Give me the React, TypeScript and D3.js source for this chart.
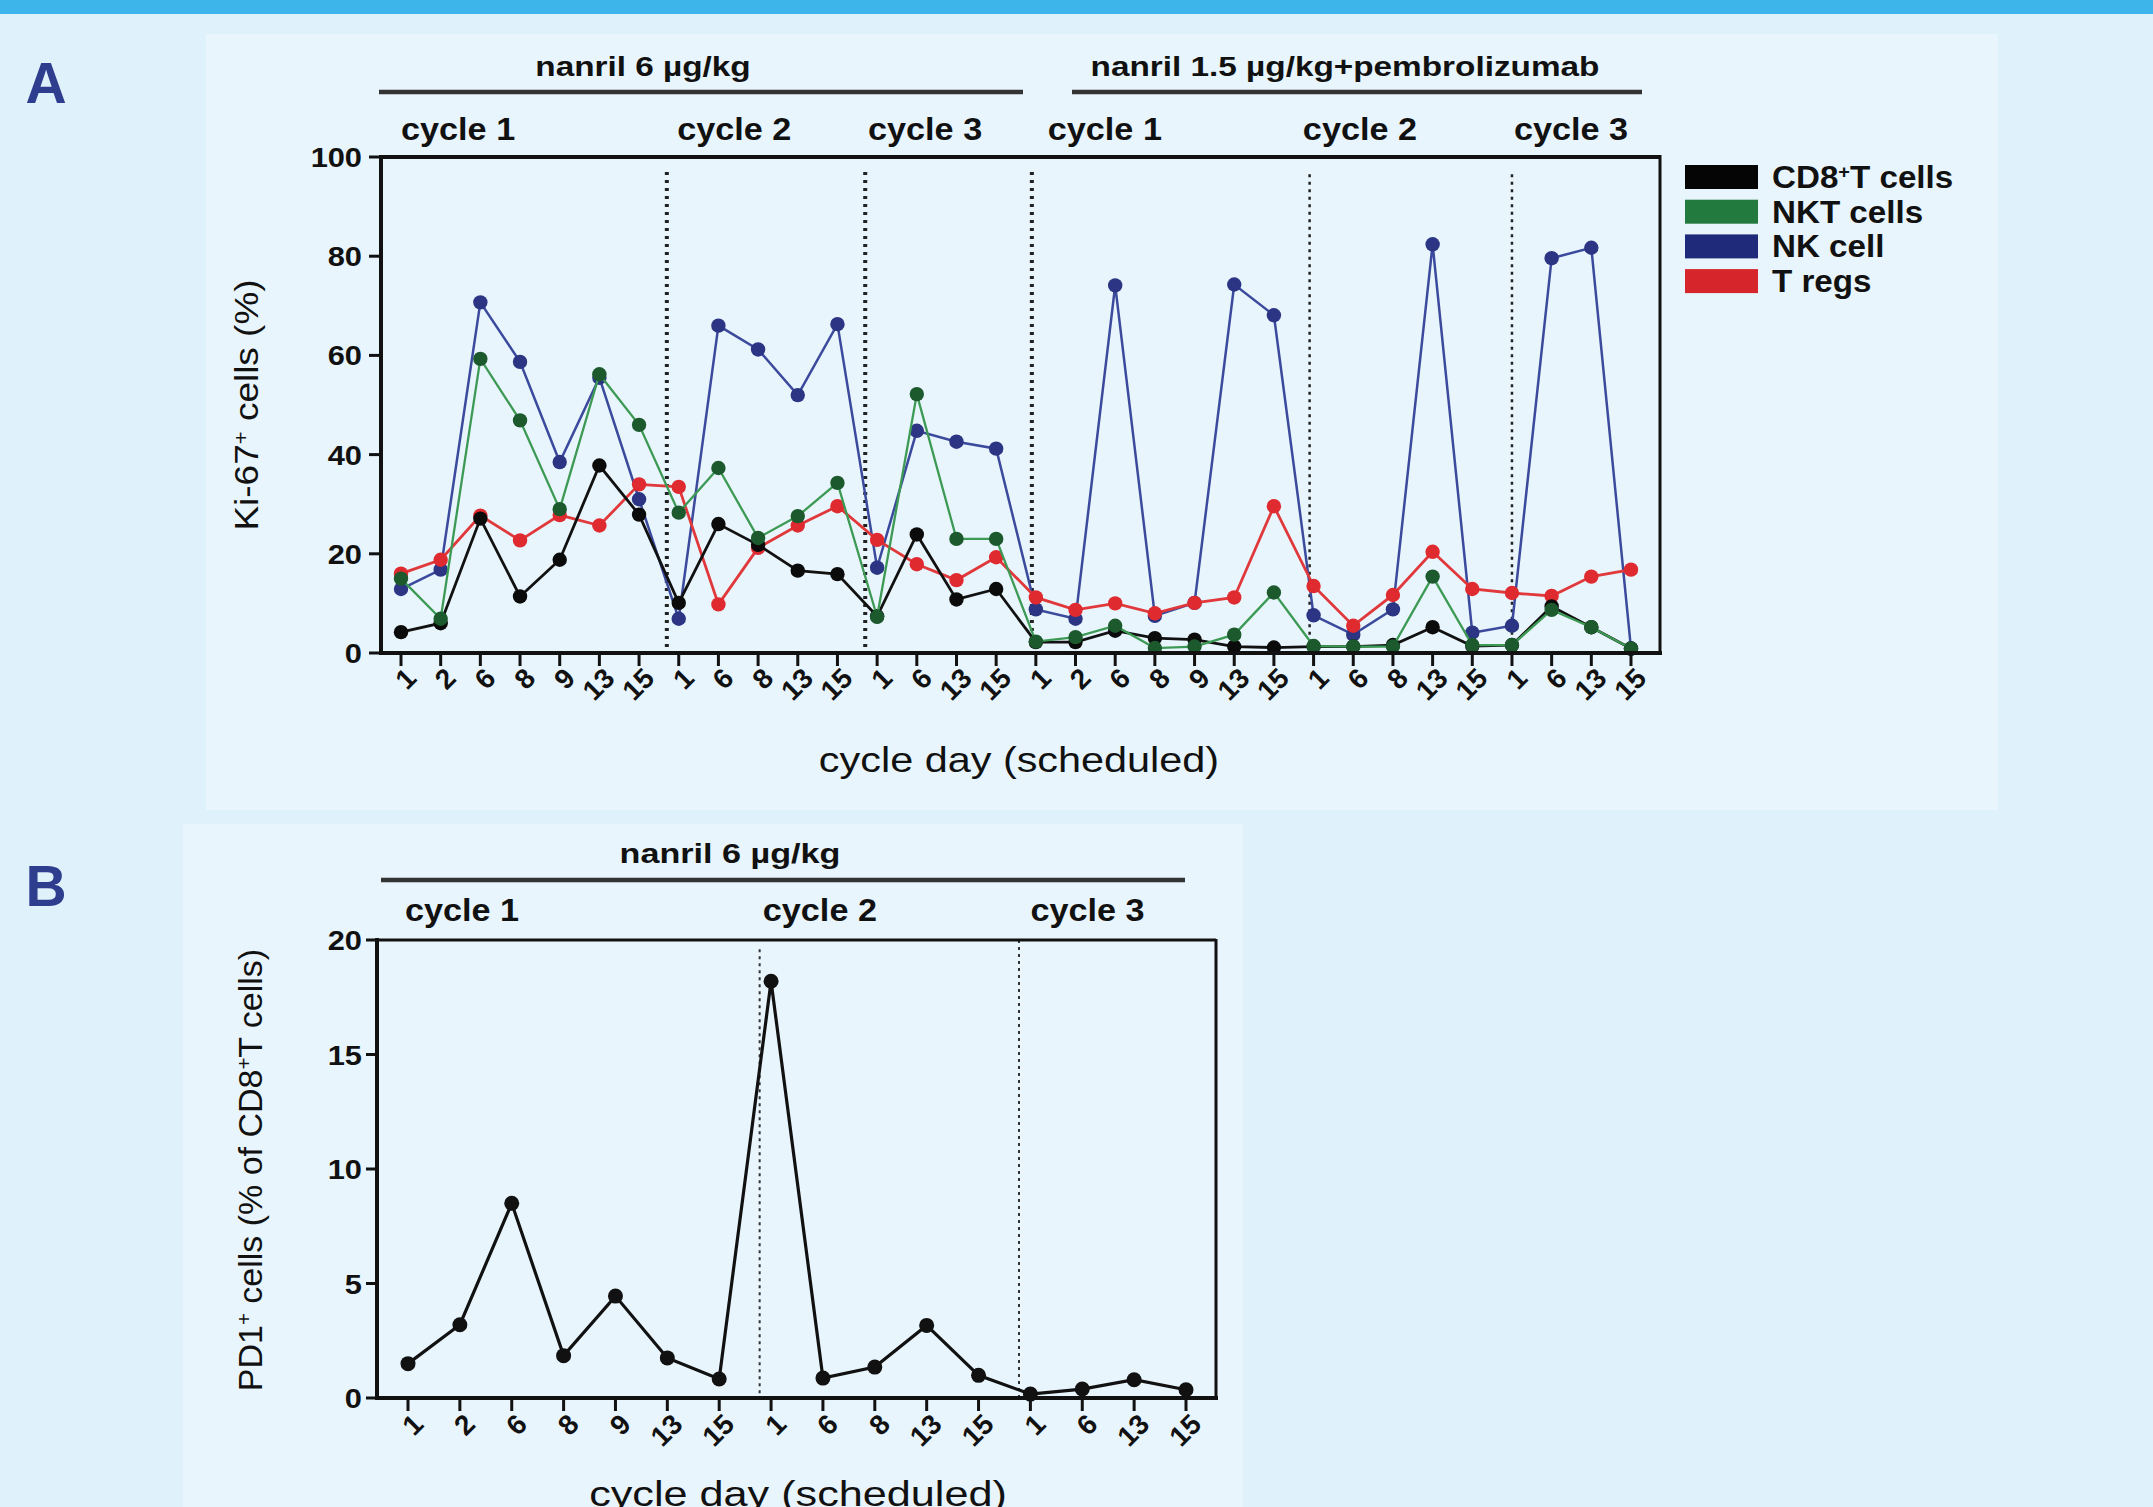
import * as d3 from 'd3'

// Panel A: Ki-67+ cells, one point per scheduled cycle day
const daysA = [1, 2, 6, 8, 9, 13, 15, 1, 6, 8, 13, 15, 1, 6, 13, 15, 1, 2, 6, 8, 9, 13, 15, 1, 6, 8, 13, 15, 1, 6, 13, 15]
const cd8T = [4.2, 6, 27.1, 11.4, 18.8, 37.8, 27.9, 10.1, 26, 21.8, 16.6, 15.9, 7.4, 23.9, 10.8, 12.9, 2.2, 2.2, 4.5, 3, 2.7, 1.3, 1.1, 1.3, 1.3, 1.6, 5.2, 1.4, 1.6, 9.4, 5.2, 0.9]
const nkt = [15, 6.9, 59.3, 46.9, 29, 56.2, 46, 28.3, 37.3, 23.2, 27.6, 34.3, 7.3, 52.2, 23, 23, 2.3, 3.2, 5.5, 1, 1.3, 3.7, 12.2, 1.4, 1.3, 1.3, 15.4, 1.6, 1.6, 8.7, 5.2, 0.9]
const nk = [12.9, 16.8, 70.7, 58.7, 38.5, 55.5, 31, 6.9, 66, 61.2, 52, 66.3, 17.2, 44.8, 42.6, 41.2, 8.8, 6.9, 74.1, 7.5, 10.1, 74.3, 68.1, 7.6, 3.7, 8.8, 82.4, 4.1, 5.5, 79.6, 81.7, 0.9]
const tregs = [16, 18.8, 27.7, 22.7, 27.8, 25.7, 34, 33.5, 9.8, 21.2, 25.7, 29.6, 22.8, 17.9, 14.7, 19.3, 11.2, 8.7, 10, 8, 10.1, 11.2, 29.6, 13.5, 5.5, 11.7, 20.4, 12.9, 12.1, 11.5, 15.4, 16.8]
const seriesNames = ['CD8⁺T cells', 'NKT cells', 'NK cell', 'T regs']
const ticksA = [0, 20, 40, 60, 80, 100]
const regimensA = ['nanril 6 µg/kg', 'nanril 1.5 µg/kg+pembrolizumab']
const cyclesA = ['cycle 1', 'cycle 2', 'cycle 3', 'cycle 1', 'cycle 2', 'cycle 3']
// where the dotted cycle separators sit, in category units
const breaksA = [6.7, 11.7, 15.9, 22.9, 28.0]
const cycleStartA = [0, 6.96, 11.77, 16.3, 22.73, 28.05]

// Panel B: PD1+ of CD8+ T cells
const daysB = [1, 2, 6, 8, 9, 13, 15, 1, 6, 8, 13, 15, 1, 6, 13, 15]
const pd1 = [1.5, 3.2, 8.5, 1.85, 4.45, 1.75, 0.83, 18.2, 0.87, 1.35, 3.17, 0.99, 0.17, 0.39, 0.8, 0.36]
const ticksB = [0, 5, 10, 15, 20]
const cyclesB = ['cycle 1', 'cycle 2', 'cycle 3']
const breaksB = [6.78, 11.78]
const cycleStartB = [-0.06, 6.84, 12.0]

const FONT = '"Liberation Sans", Arial, Helvetica, sans-serif'
const INK = '#111'

function sup(label: string) {
  const parts = label.split('⁺')
  return parts.flatMap((p, i) =>
    i === 0 ? [p] : [<tspan key={i} baselineShift="super" fontSize="0.6em">+</tspan>, p]
  )
}

function Txt({ x, y, size, weight = 'bold', anchor = 'start', sx = 1, rotate = 0, fill = INK, children }: any) {
  return (
    <text
      transform={`translate(${x},${y}) rotate(${rotate}) scale(${sx},1)`}
      fontSize={size}
      fontWeight={weight}
      textAnchor={anchor}
      fill={fill}
      fontFamily={FONT}
    >
      {children}
    </text>
  )
}

export default function App() {
  const W = 2153
  const H = 1507

  // ---- panel A scales
  const xA = d3.scaleLinear().domain([0, daysA.length - 1]).range([401, 1631])
  const yA = d3.scaleLinear().domain([0, 100]).range([653, 157])
  const lineA = d3.line<number>().x((_, i) => xA(i)).y((d) => yA(d))

  const seriesA = [
    { values: nk, line: '#3b4a9c', dot: '#2b3583', width: 2.5 },
    { values: tregs, line: '#e0383b', dot: '#df2a30', width: 2.8 },
    { values: cd8T, line: '#111', dot: '#0b0b0b', width: 2.8 },
    { values: nkt, line: '#3d9a55', dot: '#1c5a2e', width: 2.3 },
  ]
  const legendColors = ['#050505', '#237a3e', '#1f2b7a', '#d7262b']

  // ---- panel B scales
  const xB = d3.scaleLinear().domain([0, daysB.length - 1]).range([408, 1186])
  const yB = d3.scaleLinear().domain([0, 20]).range([1398, 940])
  const lineB = d3.line<number>().x((_, i) => xB(i)).y((d) => yB(d))

  return (
    <svg width={W} height={H} style={{ position: 'absolute', left: 0, top: 0, display: 'block' }}>
      <rect width={W} height={H} fill="#dff1fb" />
      <rect width={W} height={14} fill="#3db4ea" />
      <rect x={206} y={34} width={1792} height={776} fill="#e8f5fc" />
      <rect x={183} y={824} width={1060} height={683} fill="#e8f5fc" />

      <Txt x={46} y={103} size={57} anchor="middle" fill="#2f3d8f">A</Txt>
      <Txt x={46} y={906} size={57} anchor="middle" fill="#2f3d8f">B</Txt>

      {/* ================= panel A ================= */}
      <Txt x={643} y={76} size={28} anchor="middle" sx={1.19}>{regimensA[0]}</Txt>
      <Txt x={1345} y={76} size={28} anchor="middle" sx={1.19}>{regimensA[1]}</Txt>
      <line x1={379} x2={1023} y1={92} y2={92} stroke="#333" strokeWidth={4.5} />
      <line x1={1072} x2={1642} y1={92} y2={92} stroke="#333" strokeWidth={4.5} />
      {cyclesA.map((c, i) => (
        <Txt key={i} x={xA(cycleStartA[i])} y={140} size={32} sx={1.07}>{c}</Txt>
      ))}

      {breaksA.map((b, i) => (
        <line
          key={i}
          x1={xA(b)}
          x2={xA(b)}
          y1={yA(i < 3 ? 97 : 96.5)}
          y2={yA(0)}
          stroke="#222"
          strokeWidth={i < 3 ? 4 : 2.5}
          strokeDasharray={i < 3 ? '3 5' : '3 4.5'}
        />
      ))}

      {seriesA.map((s, k) => (
        <g key={k}>
          <path d={lineA(s.values) || ''} fill="none" stroke={s.line} strokeWidth={s.width} />
          {s.values.map((v, i) => (
            <circle key={i} cx={xA(i)} cy={yA(v)} r={7.2} fill={s.dot} />
          ))}
        </g>
      ))}

      {/* frame */}
      <line x1={381} x2={1660} y1={157} y2={157} stroke={INK} strokeWidth={4} />
      <line x1={1660} x2={1660} y1={155} y2={655} stroke={INK} strokeWidth={3} />
      <line x1={381} x2={381} y1={155} y2={655} stroke={INK} strokeWidth={4} />
      <line x1={379} x2={1662} y1={653} y2={653} stroke={INK} strokeWidth={4} />

      {ticksA.map((t) => (
        <g key={t}>
          <line x1={369} x2={381} y1={yA(t)} y2={yA(t)} stroke={INK} strokeWidth={3} />
          <Txt x={362} y={yA(t) + 10} size={28} anchor="end" sx={1.1}>{t}</Txt>
        </g>
      ))}
      {daysA.map((d, i) => (
        <g key={i}>
          <line x1={xA(i)} x2={xA(i)} y1={653} y2={666} stroke={INK} strokeWidth={3} />
          <text
            transform={`translate(${xA(i) + 10},${673}) rotate(-45)`}
            textAnchor="end"
            dy="0.35em"
            fontSize={28}
            fontWeight="bold"
            fontFamily={FONT}
            fill={INK}
          >
            {d}
          </text>
        </g>
      ))}

      <Txt x={1019} y={772} size={36} weight="normal" anchor="middle" sx={1.15}>cycle day (scheduled)</Txt>
      <Txt x={258} y={405} size={33} weight="normal" anchor="middle" rotate={-90} sx={1.12}>
        {sup('Ki-67⁺  cells (%)')}
      </Txt>

      {seriesNames.map((n, i) => (
        <g key={n}>
          <rect x={1685} y={165 + i * 34.7} width={73} height={24} fill={legendColors[i]} />
          <Txt x={1772} y={188 + i * 34.7} size={31} sx={1.07}>{sup(n)}</Txt>
        </g>
      ))}

      {/* ================= panel B ================= */}
      <Txt x={730} y={863} size={28} anchor="middle" sx={1.22}>{regimensA[0]}</Txt>
      <line x1={381} x2={1185} y1={880} y2={880} stroke="#333" strokeWidth={4.5} />
      {cyclesB.map((c, i) => (
        <Txt key={i} x={xB(cycleStartB[i])} y={921} size={32} sx={1.07}>{c}</Txt>
      ))}

      {breaksB.map((b, i) => (
        <line
          key={i}
          x1={xB(b)}
          x2={xB(b)}
          y1={yB(i === 0 ? 19.6 : 20)}
          y2={yB(0)}
          stroke="#333"
          strokeWidth={2}
          strokeDasharray="3 4"
        />
      ))}

      <path d={lineB(pd1) || ''} fill="none" stroke={INK} strokeWidth={3.2} />
      {pd1.map((v, i) => (
        <circle key={i} cx={xB(i)} cy={yB(v)} r={7.5} fill={INK} />
      ))}

      <line x1={377} x2={1216} y1={940} y2={940} stroke={INK} strokeWidth={3} />
      <line x1={1216} x2={1216} y1={939} y2={1400} stroke={INK} strokeWidth={3} />
      <line x1={377} x2={377} y1={938} y2={1400} stroke={INK} strokeWidth={4} />
      <line x1={375} x2={1218} y1={1398} y2={1398} stroke={INK} strokeWidth={4} />

      {ticksB.map((t) => (
        <g key={t}>
          <line x1={366} x2={377} y1={yB(t)} y2={yB(t)} stroke={INK} strokeWidth={3} />
          <Txt x={362} y={yB(t) + 10} size={28} anchor="end" sx={1.1}>{t}</Txt>
        </g>
      ))}
      {daysB.map((d, i) => (
        <g key={i}>
          <line x1={xB(i)} x2={xB(i)} y1={1398} y2={1411} stroke={INK} strokeWidth={3} />
          <text
            transform={`translate(${xB(i) + 10},${1419}) rotate(-45)`}
            textAnchor="end"
            dy="0.35em"
            fontSize={28}
            fontWeight="bold"
            fontFamily={FONT}
            fill={INK}
          >
            {d}
          </text>
        </g>
      ))}

      <Txt x={798} y={1506} size={36} weight="normal" anchor="middle" sx={1.2}>cycle day (scheduled)</Txt>
      <Txt x={262} y={1170} size={33} weight="normal" anchor="middle" rotate={-90} sx={1.03}>
        {sup('PD1⁺  cells (% of CD8⁺T cells)')}
      </Txt>
    </svg>
  )
}
